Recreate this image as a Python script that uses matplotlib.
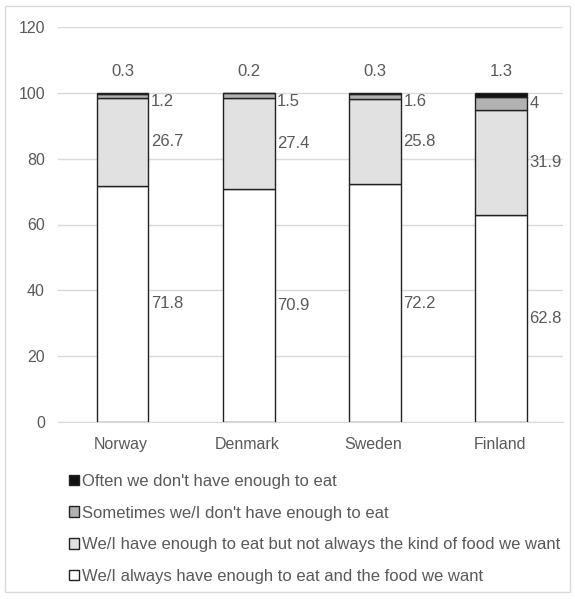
import matplotlib.pyplot as plt
from matplotlib.patches import Rectangle, Patch
import numpy as np

plt.rcParams['font.family'] = ['Liberation Sans', 'DejaVu Sans']

countries = ['Norway', 'Denmark', 'Sweden', 'Finland']
always = [71.8, 70.9, 72.2, 62.8]
not_kind = [26.7, 27.4, 25.8, 31.9]
sometimes = [1.2, 1.5, 1.6, 4]
often = [0.3, 0.2, 0.3, 1.3]

series = [
    ("We/I always have enough to eat and the food we want", always, '#ffffff'),
    ("We/I have enough to eat but not always the kind of food we want", not_kind, '#e1e1e1'),
    ("Sometimes we/I don't have enough to eat", sometimes, '#b2b2b2'),
    ("Often we don't have enough to eat", often, '#111111'),
]

txt = '#595959'
fig = plt.figure(figsize=(5.75, 5.99), dpi=100)
ax = fig.add_axes([58/575, 1 - 422/599, 505/575, 395/599])
fig.patches.append(Rectangle((5/575, 7/599), 565/575, 586/599, transform=fig.transFigure,
                             fill=False, edgecolor='#d9d9d9', lw=1))

x = np.arange(len(countries))
w = 0.41
bottom = np.zeros(len(countries))
handles = []
for i, (name, vals, col) in enumerate(series):
    vals = np.array(vals, dtype=float)
    ax.bar(x + 0.01, vals, w, bottom=bottom, color=col, edgecolor='#222222', lw=1, zorder=3)
    for j, v in enumerate(vals):
        if i == 3:
            ax.text(x[j] + 0.01, 106.5, f'{v:g}', ha='center', va='center',
                    fontsize=12, color=txt)
        else:
            yc = bottom[j] + v / 2
            if i == 2:
                yc = min(yc, 97.3)
            ax.text(x[j] + w / 2 + 0.03, yc, f'{v:g}', ha='left', va='center',
                    fontsize=12, color=txt)
    bottom += vals
    handles.append(Patch(facecolor=col, edgecolor='#222222', lw=1, label=name))

ax.set_xlim(-0.5, 3.5)
ax.set_ylim(0, 120)
ax.set_yticks(range(0, 121, 20))
ax.set_xticks(x, countries)
ax.grid(axis='y', color='#d9d9d9', lw=1, zorder=0)
ax.set_axisbelow(True)
for s in ['top', 'right', 'left']:
    ax.spines[s].set_visible(False)
ax.spines['bottom'].set_color('#d9d9d9')
ax.tick_params(length=0, colors=txt, labelsize=11.5)
ax.tick_params(axis='x', pad=11)
ax.tick_params(axis='y', pad=9.4)

leg = fig.legend(handles=handles[::-1], loc='upper left', bbox_to_anchor=(69/575, 1 - 474/599),
                 frameon=False, fontsize=12, labelcolor=txt, handlelength=0.6, handleheight=0.6,
                 handletextpad=0.2, labelspacing=1.0, borderaxespad=0, borderpad=0)

fig.savefig('out.png', dpi=100)
